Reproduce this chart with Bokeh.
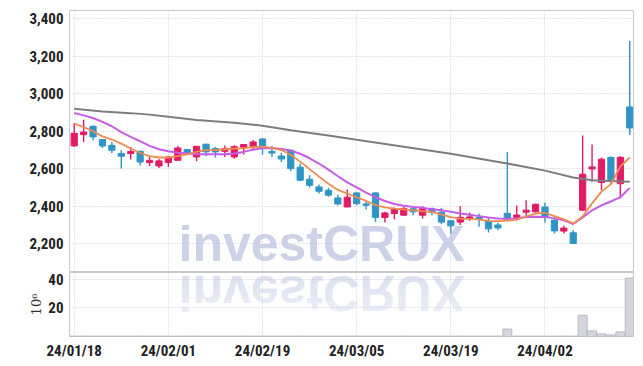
import urllib.parse
from bokeh.plotting import figure
from bokeh.layouts import column
from bokeh.models import (ColumnDataSource, FixedTicker, NumeralTickFormatter,
                          Range1d, Label)
from bokeh.embed import file_html
from bokeh.resources import INLINE

# ---------------- data ----------------
dates = ["24/01/18", "24/01/19", "24/01/22", "24/01/23", "24/01/24", "24/01/25",
         "24/01/26", "24/01/29", "24/01/30", "24/01/31", "24/02/01", "24/02/02",
         "24/02/05", "24/02/06", "24/02/07", "24/02/08", "24/02/13", "24/02/14",
         "24/02/15", "24/02/16", "24/02/19", "24/02/20", "24/02/21", "24/02/22",
         "24/02/23", "24/02/26", "24/02/27", "24/02/28", "24/02/29", "24/03/04",
         "24/03/05", "24/03/06", "24/03/07", "24/03/08", "24/03/11", "24/03/12",
         "24/03/13", "24/03/14", "24/03/15", "24/03/18", "24/03/19", "24/03/20",
         "24/03/21", "24/03/22", "24/03/25", "24/03/26", "24/03/27", "24/03/28",
         "24/03/29", "24/04/01", "24/04/02", "24/04/03", "24/04/04", "24/04/05",
         "24/04/08", "24/04/09", "24/04/11", "24/04/12", "24/04/15", "24/04/16"]

open_ = [2722, 2782, 2827, 2756, 2725, 2681, 2681, 2693, 2633, 2615,
         2633, 2645, 2702, 2663, 2731, 2708, 2693, 2663, 2715, 2720,
         2759, 2693, 2668, 2699, 2608, 2544, 2503, 2485, 2444, 2396,
         2471, 2412, 2471, 2340, 2361, 2352, 2386, 2352, 2386, 2368,
         2322, 2315, 2336, 2340, 2318, 2300, 2362, 2340, 2368, 2370,
         2396, 2325, 2267, 2258, 2379, 2599, 2526, 2660, 2520, 2930]
high = [2844, 2862, 2830, 2758, 2743, 2699, 2716, 2697, 2667, 2652,
        2667, 2722, 2705, 2722, 2733, 2716, 2724, 2725, 2731, 2754,
        2763, 2722, 2686, 2701, 2628, 2565, 2516, 2498, 2462, 2489,
        2473, 2432, 2473, 2370, 2393, 2396, 2400, 2400, 2393, 2391,
        2324, 2400, 2366, 2361, 2340, 2311, 2690, 2404, 2432, 2414,
        2420, 2340, 2295, 2272, 2777, 2729, 2660, 2667, 2667, 3282]
low = [2718, 2743, 2752, 2711, 2684, 2601, 2649, 2617, 2615, 2604,
       2610, 2645, 2675, 2640, 2667, 2660, 2663, 2654, 2676, 2706,
       2676, 2663, 2636, 2587, 2533, 2500, 2468, 2450, 2404, 2394,
       2405, 2382, 2316, 2313, 2331, 2350, 2352, 2334, 2352, 2304,
       2254, 2299, 2322, 2290, 2260, 2272, 2329, 2324, 2347, 2366,
       2311, 2254, 2254, 2199, 2375, 2530, 2485, 2517, 2441, 2782]
close = [2789, 2796, 2770, 2722, 2699, 2667, 2692, 2636, 2645, 2642,
         2663, 2711, 2677, 2720, 2690, 2690, 2708, 2718, 2729, 2743,
         2708, 2684, 2652, 2601, 2539, 2512, 2480, 2459, 2412, 2448,
         2414, 2405, 2340, 2364, 2382, 2388, 2370, 2386, 2366, 2315,
         2295, 2341, 2343, 2332, 2279, 2284, 2332, 2353, 2379, 2410,
         2340, 2268, 2283, 2201, 2571, 2610, 2651, 2539, 2661, 2818]

# volume, millions of shares
volume = [0.3, 0.3, 0.3, 0.3, 0.3, 0.3, 0.3, 0.3, 0.3, 0.3,
          0.3, 0.3, 0.3, 0.3, 0.3, 0.3, 0.3, 0.3, 0.3, 0.3,
          0.3, 0.3, 0.3, 0.3, 0.3, 0.3, 0.3, 0.3, 0.3, 0.3,
          0.3, 0.3, 0.3, 0.3, 0.3, 0.3, 0.3, 0.3, 0.3, 0.3,
          0.3, 0.3, 0.3, 0.3, 0.3, 0.3, 5.2, 0.3, 0.3, 0.3,
          0.3, 0.3, 0.3, 0.3, 14.8, 3.9, 1.8, 1.1, 3.2, 40.8]

ma_short = [2841, 2823, 2800, 2773, 2756, 2734, 2708, 2684, 2667, 2660,
            2660, 2667, 2677, 2690, 2699, 2700, 2704, 2708, 2710, 2716,
            2718, 2712, 2700, 2675, 2638, 2598, 2558, 2520, 2487, 2468,
            2448, 2428, 2406, 2394, 2387, 2383, 2378, 2374, 2370, 2355,
            2342, 2334, 2332, 2328, 2322, 2320, 2323, 2328, 2345, 2360,
            2365, 2347, 2330, 2308, 2345, 2415, 2478, 2518, 2612, 2660]
ma_mid = [2898, 2885, 2871, 2850, 2827, 2796, 2770, 2747, 2722, 2704,
          2693, 2686, 2681, 2678, 2677, 2677, 2677, 2682, 2690, 2702,
          2710, 2711, 2706, 2697, 2680, 2656, 2628, 2595, 2560, 2527,
          2500, 2472, 2448, 2428, 2412, 2403, 2396, 2392, 2384, 2378,
          2370, 2361, 2354, 2347, 2340, 2334, 2333, 2334, 2342, 2344,
          2343, 2335, 2325, 2305, 2340, 2378, 2405, 2425, 2448, 2498]
ma_long_idx = [0, 3, 6, 8, 10, 13, 17, 20, 23, 27, 30, 35, 40, 46, 50, 53, 55, 59]
ma_long = [2921, 2906, 2897, 2889, 2878, 2860, 2845, 2830, 2805, 2778,
           2755, 2718, 2680, 2628, 2590, 2553, 2538, 2530]

price_ticks = [2200, 2400, 2600, 2800, 3000, 3200, 3400]
volume_ticks = [20, 40]
date_ticks = [0, 10, 20, 30, 40, 50]

# ---------------- styling ----------------
RED = "#e31b65"
BLUE = "#2e95c6"
ORANGE = "#f08a50"
PURPLE = "#c85ce6"
GRAY = "#7d7d7d"
GRID = "#c4c8dc"
FRAME = "#c8c8cc"
LABEL_FONT = "Roboto Condensed, Liberation Sans"
WM = "#cdd2e8"

idx = list(range(len(dates)))
src = ColumnDataSource(dict(
    x=idx, high=high, low=low,
    top=[max(o, c) for o, c in zip(open_, close)],
    bottom=[min(o, c) for o, c in zip(open_, close)],
    color=[RED if c >= o else BLUE for o, c in zip(open_, close)],
    vol=volume,
))

x_range = Range1d(-0.5, 59.4)

# ---------------- price panel ----------------
p = figure(width=640, height=272, x_range=x_range, y_range=Range1d(2046, 3445),
           output_backend="svg", toolbar_location=None,
           min_border_left=69, min_border_right=7, min_border_top=10,
           min_border_bottom=0)
p.xaxis.visible = False
p.xaxis.ticker = FixedTicker(ticks=date_ticks)
p.xgrid.ticker = FixedTicker(ticks=date_ticks)

wm = Label(x=109, y=1, x_units="screen", y_units="screen", text="investCRUX",
           text_font="Liberation Sans", text_font_style="bold",
           text_font_size="50px", text_color=WM, level="image")
p.add_layout(wm)

p.segment(x0="x", y0="high", x1="x", y1="low", color="color", line_width=1.4,
          source=src)
p.vbar(x="x", width=0.66, top="top", bottom="bottom", fill_color="color",
       line_color="color", line_width=1, source=src)

p.line(ma_long_idx, ma_long, color=GRAY, line_width=2)
p.line(idx, ma_mid, color=PURPLE, line_width=2)
p.line(idx, ma_short, color=ORANGE, line_width=1.8)

p.yaxis.ticker = FixedTicker(ticks=price_ticks)
p.yaxis.formatter = NumeralTickFormatter(format="0,0")

# ---------------- volume panel ----------------
p2 = figure(width=640, height=90, x_range=x_range, y_range=Range1d(0, 44.7),
            output_backend="svg", toolbar_location=None,
            min_border_left=69, min_border_right=7, min_border_top=0,
            min_border_bottom=24)

svg = ("<svg xmlns='http://www.w3.org/2000/svg' width='300' height='50'>"
       "<defs><linearGradient id='g' x1='0' y1='0' x2='0' y2='1'>"
       "<stop offset='0' stop-color='" + WM + "' stop-opacity='0.3'/>"
       "<stop offset='1' stop-color='" + WM + "' stop-opacity='0.8'/>"
       "</linearGradient></defs>"
       "<text x='0' y='0' transform='scale(1,-1)' font-family='Liberation Sans' "
       "font-weight='bold' font-size='50' fill='url(#g)'>investCRUX</text></svg>")
uri = "data:image/svg+xml;charset=utf-8," + urllib.parse.quote(svg)
p2.image_url(url=[uri], x=[11.08], y=[42.6], w=[300], h=[50],
             w_units="screen", h_units="screen", anchor="top_left", level="image")

p2.vbar(x="x", width=0.95, top="vol", bottom=0, fill_color="#d5d5dd",
        line_color="#b9b9c3", line_width=1, source=src)

p2.xaxis.ticker = FixedTicker(ticks=date_ticks)
p2.xgrid.ticker = FixedTicker(ticks=date_ticks)
p2.xaxis.major_label_overrides = {i: dates[i] for i in date_ticks}
p2.yaxis.ticker = FixedTicker(ticks=volume_ticks)
p2.yaxis.axis_label = "10⁶"
p2.yaxis.axis_label_text_font = "DejaVu Serif"
p2.yaxis.axis_label_text_font_style = "normal"
p2.yaxis.axis_label_text_font_size = "13px"
p2.yaxis.axis_label_text_color = "#333333"
p2.yaxis.axis_label_standoff = 1

for fig in (p, p2):
    fig.outline_line_color = FRAME
    fig.outline_line_width = 1
    fig.background_fill_color = "white"
    fig.border_fill_color = "white"
    for g in (fig.xgrid, fig.ygrid):
        g.grid_line_color = GRID
        g.grid_line_dash = "1 2"
        g.grid_line_width = 1
    for ax in fig.axis:
        ax.axis_line_color = None
        ax.major_tick_line_color = None
        ax.minor_tick_line_color = None
        ax.major_tick_out = 0
        ax.major_tick_in = 0
        ax.major_label_text_font = LABEL_FONT
        ax.major_label_text_font_style = "bold"
        ax.major_label_text_font_size = "15px"
        ax.major_label_text_color = "#222222"
        ax.major_label_standoff = 6
p2.xaxis.major_label_standoff = 5

layout = column(p, p2, spacing=0)
open("out.html", "w").write(file_html(layout, INLINE))
